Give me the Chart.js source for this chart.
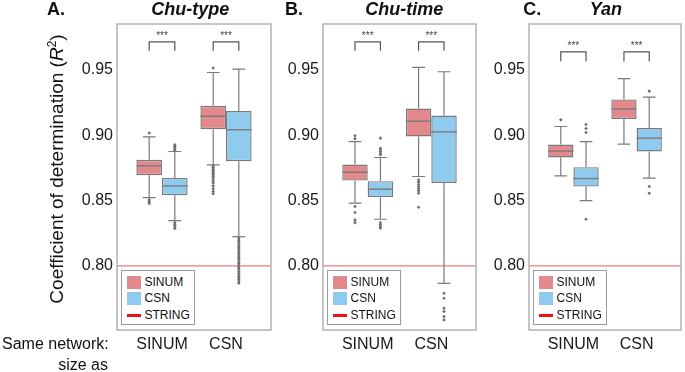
<!DOCTYPE html>
<html><head><meta charset="utf-8">
<script src="https://cdn.jsdelivr.net/npm/chart.js@4.4.1/dist/chart.umd.min.js"></script>
<style>
html,body{margin:0;padding:0;background:#fff;width:685px;height:372px;overflow:hidden;font-family:"Liberation Sans",Arial,sans-serif;}
canvas{position:absolute;top:0;}
.t{position:absolute;white-space:nowrap;color:#111;line-height:1;}
.lg{position:absolute;box-sizing:border-box;border:1.5px solid #9a9a9a;background:#fff;width:74px;height:55px;top:270px;}
.sw{position:absolute;left:5px;width:14px;}
.lt{position:absolute;left:23px;font-size:12px;line-height:1;color:#111;}
#ylab{position:absolute;left:56px;top:168.5px;transform:translate(-50%,-50%) rotate(-90deg);font-size:19px;white-space:nowrap;color:#111;line-height:1;}
#ylab sup{font-size:12px;vertical-align:7px;line-height:0;}
</style></head><body>
<canvas id="cA" width="275" height="372" style="left:0px"></canvas>
<canvas id="cB" width="205" height="372" style="left:275px"></canvas>
<canvas id="cC" width="205" height="372" style="left:480px"></canvas>
<div id="ylab">Coefficient of determination (<i>R</i><sup>2</sup>)</div>
<script>
// ---------- DATA ----------
const categories = ['SINUM', 'CSN'];
const panelLetters = ['A.', 'B.', 'C.'];
const panelTitles = ['Chu-type', 'Chu-time', 'Yan'];
const seriesNames = ['SINUM', 'CSN', 'STRING'];
const yTicks = [0.80, 0.85, 0.90, 0.95];
const stringR2 = 0.80;
// box stats per category: [lower whisker, Q1, median, Q3, upper whisker]
const typeSinumBox = [[0.8523, 0.8694, 0.8765, 0.8811, 0.8987], [0.8773, 0.9046, 0.9145, 0.9224, 0.9479]];
const typeCsnBox   = [[0.8347, 0.8541, 0.8612, 0.8673, 0.8875], [0.8224, 0.8801, 0.9041, 0.9184, 0.9505]];
const typeSinumOut = [[0.9016, 0.8505, 0.8490, 0.8478],
  [0.9513, 0.8765, 0.8752, 0.8740, 0.8731, 0.8719, 0.8706, 0.8695, 0.8683, 0.8668, 0.8650, 0.8634, 0.8612, 0.8590, 0.8571, 0.8553]];
const typeCsnOut   = [[0.8926, 0.8914, 0.8904, 0.8893, 0.8884, 0.8331, 0.8316, 0.8302, 0.8287],
  [0.8212, 0.8196, 0.8183, 0.8167, 0.8150, 0.8138, 0.8121, 0.8104, 0.8092, 0.8075, 0.8061, 0.8047, 0.8030, 0.8016, 0.8001, 0.7986, 0.7972, 0.7955, 0.7941, 0.7925, 0.7911, 0.7897, 0.7881, 0.7868]];
const timeSinumBox = [[0.8480, 0.8653, 0.8717, 0.8775, 0.8951], [0.8684, 0.8990, 0.9107, 0.9204, 0.9518]];
const timeCsnBox   = [[0.8357, 0.8526, 0.8587, 0.8648, 0.8829], [0.7867, 0.8635, 0.9025, 0.9150, 0.9485]];
const timeSinumOut = [[0.8995, 0.8972, 0.8454, 0.8408, 0.8352, 0.8331],
  [0.8658, 0.8641, 0.8622, 0.8606, 0.8590, 0.8574, 0.8556, 0.8449]];
const timeCsnOut   = [[0.8977, 0.8900, 0.8888, 0.8875, 0.8862, 0.8851, 0.8330, 0.8314, 0.8300, 0.8289],
  [0.7791, 0.7753, 0.7676, 0.7651, 0.7612, 0.7587]];
const yanSinumBox = [[0.8689, 0.8829, 0.8878, 0.8928, 0.9066], [0.8931, 0.9123, 0.9200, 0.9273, 0.9433]];
const yanCsnBox   = [[0.8500, 0.8607, 0.8668, 0.8755, 0.8951], [0.8671, 0.8875, 0.8977, 0.9054, 0.9291]];
const yanSinumOut = [[0.9117], []];
const yanCsnOut   = [[0.9081, 0.9051, 0.9020, 0.8357], [0.9337, 0.8607, 0.8556]];
const significance = ['***', '***'];

// ---------- STYLE ----------
const FAM = '"Liberation Sans", Arial, sans-serif';
const RED = '#E3898D', BLUE = '#8FCBEE', LINE = '#7a7a7a', FLIER = '#6e6e6e';
const catPct = 0.8;
const yMin = 0.751, yMax = 0.985, xMin = -0.703, xMax = 1.703;

function addText(txt, x, baseline, fs, align, css) {
  const d = document.createElement('div');
  d.className = 't';
  d.innerHTML = txt;
  d.style.fontSize = fs + 'px';
  d.style.top = (baseline - 0.8465 * fs) + 'px';
  if (css) d.style.cssText += css;
  document.body.appendChild(d);
  const w = d.getBoundingClientRect().width;
  d.style.left = (align === 'center' ? x - w / 2 : align === 'right' ? x - w : x) + 'px';
}

function addLegend(left) {
  const lg = document.createElement('div');
  lg.className = 'lg';
  lg.style.left = left + 'px';
  lg.innerHTML =
    '<div class="sw" style="top:5px;height:12.5px;background:' + RED + '"></div>' +
    '<div class="lt" style="top:' + (15.5 - 10.2) + 'px">' + seriesNames[0] + '</div>' +
    '<div class="sw" style="top:21px;height:12.5px;background:' + BLUE + '"></div>' +
    '<div class="lt" style="top:' + (31.5 - 10.2) + 'px">' + seriesNames[1] + '</div>' +
    '<div class="sw" style="top:42.5px;height:3px;background:#ee1111"></div>' +
    '<div class="lt" style="top:' + (48 - 10.2) + 'px">' + seriesNames[2] + '</div>';
  document.body.appendChild(lg);
}

const boxPlugin = {
  id: 'boxplot',
  beforeDatasetsDraw(chart) {
    const { ctx, chartArea: a, scales: { y } } = chart;
    ctx.save();
    // STRING reference line
    const ry = y.getPixelForValue(stringR2);
    ctx.strokeStyle = '#f07878'; ctx.lineWidth = 1.3;
    ctx.beginPath(); ctx.moveTo(a.left, ry); ctx.lineTo(a.right, ry); ctx.stroke();
    // whiskers + caps
    ctx.strokeStyle = LINE; ctx.lineWidth = 1.2;
    chart.data.datasets.forEach((ds, di) => {
      if (!ds.stats) return;
      chart.getDatasetMeta(di).data.forEach((bar, i) => {
        const s = ds.stats[i];
        const hw = bar.width / 4;
        const p = v => y.getPixelForValue(v);
        ctx.beginPath();
        ctx.moveTo(bar.x, p(s[0])); ctx.lineTo(bar.x, p(s[1]));
        ctx.moveTo(bar.x, p(s[3])); ctx.lineTo(bar.x, p(s[4]));
        ctx.moveTo(bar.x - hw, p(s[0])); ctx.lineTo(bar.x + hw, p(s[0]));
        ctx.moveTo(bar.x - hw, p(s[4])); ctx.lineTo(bar.x + hw, p(s[4]));
        ctx.stroke();
      });
    });
    ctx.restore();
  },
  afterDatasetsDraw(chart) {
    const { ctx, chartArea: a, scales: { y } } = chart;
    const br = chart.options.plugins.boxplot;
    ctx.save();
    // medians
    ctx.strokeStyle = LINE; ctx.lineWidth = 1.4;
    const metas = [];
    chart.data.datasets.forEach((ds, di) => {
      if (!ds.stats) return;
      const meta = chart.getDatasetMeta(di);
      metas.push(meta);
      meta.data.forEach((bar, i) => {
        const my = y.getPixelForValue(ds.stats[i][2]);
        ctx.beginPath(); ctx.moveTo(bar.x - bar.width / 2, my); ctx.lineTo(bar.x + bar.width / 2, my); ctx.stroke();
      });
    });
    // significance brackets
    ctx.strokeStyle = '#555'; ctx.lineWidth = 1.2;
    ctx.fillStyle = '#444'; ctx.font = '10px ' + FAM; ctx.textAlign = 'center'; ctx.textBaseline = 'alphabetic';
    categories.forEach((c, i) => {
      const x1 = metas[0].data[i].x, x2 = metas[1].data[i].x;
      const yt = y.getPixelForValue(br.top), yl = y.getPixelForValue(br.leg);
      ctx.beginPath(); ctx.moveTo(x1, yl); ctx.lineTo(x1, yt); ctx.lineTo(x2, yt); ctx.lineTo(x2, yl); ctx.stroke();
      ctx.fillText(significance[i], (x1 + x2) / 2, y.getPixelForValue(br.stars) + 6);
    });
    ctx.restore();
  },
  afterDraw(chart) {
    const { ctx, chartArea: a } = chart;
    ctx.save();
    ctx.strokeStyle = '#b3b3b3'; ctx.lineWidth = 1.5;
    ctx.strokeRect(a.left, a.top, a.right - a.left, a.bottom - a.top);
    ctx.restore();
  }
};

function makePanel(id, yAxisWidth, padRight, sinBox, csnBox, sinOut, csnOut, brk) {
  const bars = [
    { label: seriesNames[0], data: sinBox.map((b, i) => ({ x: i, y: [b[1], b[3]] })), stats: sinBox, backgroundColor: RED },
    { label: seriesNames[1], data: csnBox.map((b, i) => ({ x: i, y: [b[1], b[3]] })), stats: csnBox, backgroundColor: BLUE }
  ].map(d => Object.assign(d, { type: 'bar', borderColor: LINE, borderWidth: 1.4, borderSkipped: false,
      categoryPercentage: catPct, barPercentage: 1.0 }));
  const fl = (outs, sgn) => ({
    type: 'scatter',
    data: outs.flatMap((arr, i) => arr.map(v => ({ x: i + sgn * catPct / 4, y: v }))),
    pointStyle: 'rectRot', pointRadius: 1.8, backgroundColor: FLIER, borderWidth: 0, showLine: false
  });
  return new Chart(document.getElementById(id), {
    type: 'bar',
    data: { datasets: [...bars, fl(sinOut, -1), fl(csnOut, 1)] },
    options: {
      responsive: false, animation: false, devicePixelRatio: 1,
      layout: { padding: { top: 24, right: padRight, left: 0, bottom: 0 } },
      plugins: { legend: { display: false }, tooltip: { enabled: false }, boxplot: brk },
      scales: {
        x: {
          type: 'linear', min: xMin, max: xMax, offset: false,
          grid: { display: false, drawTicks: false }, border: { display: false },
          afterBuildTicks: s => { s.ticks = categories.map((c, i) => ({ value: i })); },
          afterFit: s => { s.height = 42; },
          ticks: { callback: v => categories[v], font: { size: 16, family: FAM }, color: '#1a1a1a', padding: 5, maxRotation: 0, autoSkip: false }
        },
        y: {
          min: yMin, max: yMax,
          grid: { display: false, drawTicks: false }, border: { display: false },
          afterBuildTicks: s => { s.ticks = yTicks.map(v => ({ value: v })); },
          afterFit: s => { s.width = yAxisWidth; },
          ticks: { callback: v => v.toFixed(2), font: { size: 16, family: FAM }, color: '#1a1a1a', padding: 4 }
        }
      }
    },
    plugins: [boxPlugin]
  });
}

const brkAB = { top: 0.9714, leg: 0.9645, stars: 0.9783 };
const brkC = { top: 0.9637, leg: 0.9564, stars: 0.9704 };
makePanel('cA', 117, 3, typeSinumBox, typeCsnBox, typeSinumOut, typeCsnOut, brkAB);
makePanel('cB', 48, 2, timeSinumBox, timeCsnBox, timeSinumOut, timeCsnOut, brkAB);
makePanel('cC', 49, 1, yanSinumBox, yanCsnBox, yanSinumOut, yanCsnOut, brkC);

addLegend(120.5); addLegend(326.5); addLegend(532.5);

const B = 'font-weight:bold;';
addText(panelLetters[0], 47, 15, 18, 'left', B);
addText(panelTitles[0], 190.3, 15, 18, 'center', B + 'font-style:italic;');
addText(panelLetters[1], 285, 15, 18, 'left', B);
addText(panelTitles[1], 404.3, 15, 18, 'center', B + 'font-style:italic;');
addText(panelLetters[2], 523.3, 15, 18, 'left', B);
addText(panelTitles[2], 605.8, 15, 18, 'center', B + 'font-style:italic;');
addText('Same network:', 2, 350, 16, 'left');
addText('size as', 108, 370.5, 16, 'right');
</script>
</body></html>
